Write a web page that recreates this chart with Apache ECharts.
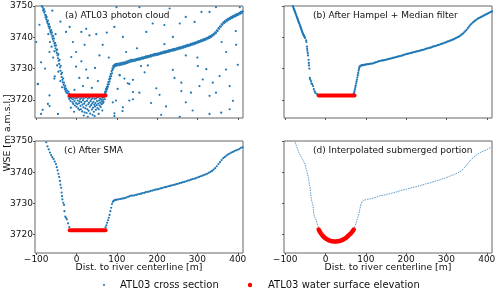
<!DOCTYPE html>
<html><head><meta charset="utf-8">
<script src="https://cdn.jsdelivr.net/npm/echarts@6/dist/echarts.min.js"></script>
<style>html,body{margin:0;padding:0;background:#fff}#c{width:500px;height:292px}</style>
</head><body><div id="c"></div>
<script>
// ---------- tick labels ----------
const X_TICKS = [-100, 0, 100, 200, 300, 400];
const Y_TICKS = [3720, 3730, 3740, 3750];
const WATER_LEVEL = 3721.4;
const WATER_EXTENT = [-17, 72];

// ---------- (a) ATL03 photon cloud ----------
const cloudLeftBankA = [[-86,3750.0],[-84,3749.5],[-83,3748.6],[-81,3749.0],[-80,3747.9],[-79,3748.3],[-78,3747.2],[-77,3746.4],[-76,3747.0],[-75,3745.8],[-74,3746.5],[-73,3745.1],[-72,3744.6],[-71,3745.3],[-70,3744.0],[-69,3743.4],[-68,3744.2],[-67,3742.8],[-66,3743.3],[-65,3742.0],[-64,3741.5],[-63,3742.3],[-62,3740.9],[-61,3741.6],[-60,3740.2],[-59,3739.5],[-58,3740.4],[-57,3738.8],[-56,3739.6],[-55,3738.0],[-54,3737.3],[-53,3738.2],[-52,3736.5],[-51,3737.4],[-50,3735.8],[-49,3735.0],[-48,3736.1],[-47,3734.2],[-46,3733.3],[-45,3734.6],[-44,3732.5],[-43,3731.5],[-42,3732.8],[-41,3730.4],[-40,3729.3],[-39,3730.9],[-38,3728.2],[-37,3727.3],[-36,3728.7],[-35,3726.4],[-34,3725.6],[-33,3726.9],[-32,3724.8],[-31,3725.5],[-30,3724.0],[-29,3723.4],[-28,3724.5],[-27,3722.8],[-26,3723.6],[-25,3722.3],[-24,3723.0],[-22,3722.1],[-20,3722.6],[-18,3721.9],[-62,3737.0],[-55,3735.5],[-48,3731.0],[-45,3729.0],[-40,3726.0],[-52,3741.0],[-66,3738.5],[-58,3733.5],[-36,3724.0],[-70,3741.0]];
const cloudUnderwaterA = [[-20,3721.0],[-18,3720.3],[-16,3720.8],[-15,3719.6],[-13,3720.5],[-12,3721.0],[-10,3719.2],[-9,3720.2],[-8,3718.7],[-7,3720.8],[-5,3719.6],[-4,3718.2],[-3,3720.4],[-1,3719.0],[0,3717.8],[1,3720.6],[2,3718.6],[3,3719.8],[4,3717.3],[5,3720.9],[6,3718.9],[7,3716.8],[8,3719.5],[9,3720.3],[10,3718.1],[11,3717.0],[12,3719.3],[13,3720.7],[14,3716.3],[15,3718.5],[16,3719.9],[17,3717.6],[18,3720.5],[19,3718.8],[20,3716.0],[21,3719.4],[22,3717.3],[23,3720.8],[24,3718.2],[25,3715.8],[26,3719.7],[27,3717.0],[28,3720.4],[29,3718.6],[30,3716.5],[31,3719.1],[32,3720.7],[33,3717.8],[34,3715.6],[35,3719.6],[36,3718.3],[37,3720.2],[38,3716.9],[39,3718.9],[40,3720.6],[41,3717.5],[42,3719.4],[43,3716.2],[44,3718.5],[45,3720.3],[46,3717.9],[47,3719.0],[48,3716.8],[49,3720.5],[50,3718.3],[51,3719.6],[52,3717.4],[53,3720.9],[54,3718.8],[55,3717.0],[56,3719.8],[57,3718.2],[58,3720.4],[59,3719.1],[60,3717.7],[61,3720.1],[62,3718.6],[63,3719.5],[64,3720.7],[65,3718.9],[66,3720.0],[67,3719.3],[68,3720.8],[70,3720.2],[-6,3716.2],[18,3715.0],[45,3714.8],[28,3714.6],[55,3715.5],[-14,3717.5],[64,3716.6],[40,3715.2]];
const cloudRightBankA = [[70,3721.9],[71,3722.6],[72,3722.2],[73,3723.4],[74,3722.8],[75,3724.1],[76,3723.5],[77,3724.9],[78,3724.2],[79,3725.7],[80,3725.0],[81,3726.6],[82,3725.9],[83,3727.4],[84,3726.8],[85,3728.3],[86,3727.6],[87,3729.2],[88,3728.5],[89,3730.0],[90,3729.6],[91,3730.8],[92,3730.3],[94,3731.2],[95,3730.7],[97,3731.4],[98,3730.9],[100,3731.5],[102,3731.0],[104,3731.6],[106,3731.1],[108,3731.7],[110,3731.2],[112,3731.8],[114,3731.3],[116,3731.9],[118,3731.5],[120,3732.0],[122,3731.6],[124,3732.2],[126,3731.8],[128,3732.4],[130,3732.0],[132,3732.6],[134,3732.2],[136,3732.8],[138,3732.3],[140,3732.8],[142,3732.4],[144,3732.9],[146,3732.5],[148,3733.0],[150,3732.7],[152,3733.2],[154,3732.8],[156,3733.3],[158,3732.9],[160,3733.4],[162,3733.1],[164,3733.6],[166,3733.2],[168,3733.7],[170,3733.4],[172,3733.9],[174,3733.5],[176,3734.0],[178,3733.6],[180,3734.1],[182,3733.8],[184,3734.3],[186,3733.9],[188,3734.4],[190,3734.1],[192,3734.6],[194,3734.2],[196,3734.7],[198,3734.3],[200,3734.8],[202,3734.4],[204,3734.9],[206,3734.6],[208,3735.1],[210,3734.7],[212,3735.2],[214,3734.9],[216,3735.4],[218,3735.0],[220,3735.5],[222,3735.1],[224,3735.6],[226,3735.3],[228,3735.8],[230,3735.4],[232,3735.9],[234,3735.6],[236,3736.1],[238,3735.7],[240,3736.2],[242,3735.8],[244,3736.3],[246,3736.0],[248,3736.5],[250,3736.1],[252,3736.6],[254,3736.3],[256,3736.8],[258,3736.4],[260,3736.9],[262,3736.6],[264,3737.1],[266,3736.7],[268,3737.2],[270,3736.9],[272,3737.4],[274,3737.1],[276,3737.6],[278,3737.2],[280,3737.7],[282,3737.4],[284,3737.9],[286,3737.6],[288,3738.1],[290,3737.7],[292,3738.2],[294,3737.9],[296,3738.4],[298,3738.1],[300,3738.6],[302,3738.3],[304,3738.8],[306,3738.5],[308,3739.0],[310,3738.7],[312,3739.2],[314,3738.9],[316,3739.4],[318,3739.1],[320,3739.6],[322,3739.3],[324,3739.8],[326,3739.6],[328,3740.1],[330,3739.8],[332,3740.4],[334,3740.1],[336,3740.7],[338,3740.5],[340,3741.1],[342,3740.9],[344,3741.6],[346,3741.4],[348,3742.2],[350,3742.0],[352,3742.9],[354,3742.7],[356,3743.5],[358,3743.4],[360,3744.2],[362,3744.0],[364,3744.8],[366,3744.5],[368,3745.2],[370,3744.9],[372,3745.6],[374,3745.3],[376,3745.9],[378,3745.6],[380,3746.2],[382,3745.9],[384,3746.5],[386,3746.2],[388,3746.8],[390,3746.5],[392,3747.0],[394,3746.7],[396,3747.3],[398,3747.0],[400,3747.5],[402,3747.2],[404,3747.8],[406,3747.5],[408,3748.1],[410,3747.8],[412,3748.3]];
const cloudNoiseA = [[-100,3738.5],[-88,3732],[-96,3725],[-67,3718],[-84,3716.8],[-55,3726.8],[-67,3735.3],[-26,3741.7],[-17,3743.3],[-9,3738.5],[12,3741.7],[24,3742.7],[32,3740.6],[49,3741],[20,3737.6],[-1,3735.3],[-13,3733.7],[-1,3730.6],[12,3732.3],[24,3729.7],[46,3730.2],[57,3734.2],[65,3737.6],[7,3727],[28,3727],[53,3726],[16,3724.4],[38,3723.8],[-5,3723.2],[99,3749.6],[94,3743.3],[115,3740.1],[123,3735.3],[107,3728],[127,3725.3],[140,3726.4],[102,3723.5],[90,3719.2],[94,3714.8],[114,3716.4],[140,3720.2],[156,3722.3],[169,3728.8],[160,3730.8],[177,3731.0],[156,3749.6],[189,3744.4],[173,3741.7],[218,3743.9],[231,3749.2],[198,3723.7],[206,3721.6],[185,3719],[222,3717.9],[239,3729.6],[243,3727],[260,3725.5],[260,3722.8],[256,3714.6],[271,3719.2],[288,3716.6],[284,3722.3],[305,3724.4],[313,3726.5],[301,3730.8],[322,3729.8],[338,3725.5],[346,3722.3],[359,3715.9],[330,3721.3],[380,3717],[388,3719.7],[380,3724.4],[396,3737.6],[400,3731.2],[256,3744.4],[271,3746.5],[293,3744.9],[310,3748.1],[330,3748.1],[346,3749.6],[371,3735.3],[405,3749.6],[271,3734.2],[239,3740.1],[218,3737.8],[371,3729.7],[355,3727.6],[107,3727.8],[119,3726.8],[131,3725.1],[140,3722.5],[98,3719.8],[115,3717.6],[131,3719.8],[94,3715.7],[-96,3725.1],[-67,3721.4],[-54,3727.5],[-71,3718.7],[-88,3715.5],[-46,3715.5],[-78,3730],[-92,3744],[-60,3748.5],[-40,3745],[210,3715.2],[330,3715.5],[300,3733.5],[395,3742],[360,3738.5],[150,3736.5],[75,3741.5],[80,3733.5]];

// ---------- (b) After Hampel + Median filter ----------
const filteredLeftB = [[-81,3750.0],[-80,3749.6],[-79,3749.2],[-78,3748.9],[-77,3748.6],[-76,3748.2],[-75,3747.9],[-74,3747.5],[-73,3747.2],[-72,3746.8],[-71,3746.5],[-70,3746.1],[-69,3745.8],[-68,3745.4],[-67,3745.0],[-66,3744.7],[-65,3744.4],[-64,3744.0],[-63,3743.6],[-62,3743.3],[-61,3742.9],[-60,3742.6],[-59,3742.2],[-58,3741.8],[-57,3741.5],[-56,3741.1],[-55,3740.9],[-54,3740.6],[-53,3740.4],[-52,3740.1],[-51,3739.8],[-48,3739.0],[-47.5,3738.5],[-46,3737.0],[-45.5,3736.3],[-45,3735.7],[-44,3735.0],[-43.5,3734.2],[-42,3732.8],[-41.5,3731.8],[-41,3731.0],[-40,3730.0],[-39,3727.0],[-38,3726.5],[-36,3726.0],[-35,3725.3],[-33,3725.0],[-31,3724.4],[-29,3723.4],[-27,3722.7],[-25,3722.2],[-21,3721.8]];
const filteredRightB = [[70,3721.9],[71,3722.3],[72,3722.8],[73,3723.4],[74,3724.1],[75,3724.6],[76,3725.3],[77,3725.9],[78,3726.5],[79,3727.2],[80,3727.9],[81,3728.6],[82,3729.3],[83,3729.9],[84,3730.4],[85,3730.7],[87,3730.9],[89,3731.0],[91,3731.1],[93,3731.1],[95,3731.2],[97,3731.2],[99,3731.3],[101,3731.3],[104,3731.4],[107,3731.4],[110,3731.5],[113,3731.6],[116,3731.6],[119,3731.7],[122,3731.9],[125,3732.0],[128,3732.1],[131,3732.3],[134,3732.4],[137,3732.5],[140,3732.6],[143,3732.6],[146,3732.7],[149,3732.8],[152,3732.9],[155,3733.0],[158,3733.1],[161,3733.2],[164,3733.3],[167,3733.4],[170,3733.5],[173,3733.6],[176,3733.7],[179,3733.8],[182,3733.9],[185,3734.0],[188,3734.1],[191,3734.2],[194,3734.4],[197,3734.5],[200,3734.6],[203,3734.7],[206,3734.8],[209,3734.9],[212,3735.0],[215,3735.1],[218,3735.2],[221,3735.3],[224,3735.4],[227,3735.5],[230,3735.6],[233,3735.7],[236,3735.8],[239,3735.9],[242,3736.0],[245,3736.1],[248,3736.3],[251,3736.4],[254,3736.5],[257,3736.6],[260,3736.7],[263,3736.8],[266,3737.0],[269,3737.1],[272,3737.2],[275,3737.3],[278,3737.5],[281,3737.6],[284,3737.7],[287,3737.9],[290,3738.0],[293,3738.1],[296,3738.3],[299,3738.4],[302,3738.6],[305,3738.7],[308,3738.9],[311,3739.0],[314,3739.2],[317,3739.3],[320,3739.5],[323,3739.7],[326,3739.9],[329,3740.1],[332,3740.3],[335,3740.6],[338,3740.9],[341,3741.2],[344,3741.6],[347,3742.0],[350,3742.4],[353,3742.9],[356,3743.4],[359,3743.9],[362,3744.3],[365,3744.7],[368,3745.0],[371,3745.3],[374,3745.6],[377,3745.9],[380,3746.1],[383,3746.3],[386,3746.5],[389,3746.7],[392,3746.9],[395,3747.1],[398,3747.3],[401,3747.5],[404,3747.7],[407,3747.9],[410,3748.1],[413,3748.3]];

// ---------- (c) After SMA ----------
const smaLeftC = [[-75,3749.6],[-72,3748.3],[-69,3747.3],[-66,3746.3],[-63,3745.5],[-60,3744.8],[-57,3744.2],[-54,3743.4],[-51,3742.6],[-49,3741.6],[-47,3740.6],[-45,3739.5],[-43,3738.5],[-41,3737.2],[-40,3736.0],[-38,3735.0],[-37,3733.5],[-36,3732.3],[-35,3731.3],[-33,3730.2],[-31,3729.5],[-30,3727.5],[-28,3725.8],[-26,3725.4],[-24,3724.9],[-21,3723.6],[-18,3722.4]];
const smaRightC = [[72,3722.3],[74,3723.0],[76,3723.8],[78,3724.6],[80,3725.4],[82,3726.3],[84,3727.5],[86,3728.6],[88,3729.8],[90,3730.5],[92,3730.8],[94,3731.0],[97,3731.1],[100,3731.2],[104,3731.3],[108,3731.4],[112,3731.5],[116,3731.6],[120,3731.7],[124,3731.9],[128,3732.1],[132,3732.3],[136,3732.5],[140,3732.5],[144,3732.6],[148,3732.7],[152,3732.9],[156,3733.0],[160,3733.1],[164,3733.3],[168,3733.4],[172,3733.6],[176,3733.7],[180,3733.8],[184,3734.0],[188,3734.1],[192,3734.3],[196,3734.4],[200,3734.5],[204,3734.6],[208,3734.8],[212,3734.9],[216,3735.1],[220,3735.2],[224,3735.3],[228,3735.5],[232,3735.6],[236,3735.8],[240,3735.9],[244,3736.0],[248,3736.2],[252,3736.3],[256,3736.5],[260,3736.6],[264,3736.8],[268,3736.9],[272,3737.1],[276,3737.3],[280,3737.4],[284,3737.6],[288,3737.8],[292,3737.9],[296,3738.1],[300,3738.3],[304,3738.5],[308,3738.7],[312,3738.9],[316,3739.1],[320,3739.3],[324,3739.5],[328,3739.8],[332,3740.1],[336,3740.4],[340,3740.8],[344,3741.3],[348,3741.9],[352,3742.6],[356,3743.2],[360,3743.9],[364,3744.5],[368,3744.9],[372,3745.3],[376,3745.7],[380,3746.0],[384,3746.3],[388,3746.5],[392,3746.8],[396,3747.0],[400,3747.2],[404,3747.5],[408,3747.8],[412,3748.0]];

// ---------- (d) Interpolated submerged portion ----------
const bedProfileD = [[-17,3721.6],[-14,3720.9],[-10,3720.1],[-6,3719.5],[-2,3719.0],[2,3718.6],[6,3718.3],[10,3718.1],[14,3717.95],[18,3717.85],[22,3717.8],[26,3717.8],[30,3717.85],[34,3717.95],[38,3718.1],[42,3718.3],[46,3718.6],[50,3718.9],[54,3719.3],[58,3719.8],[62,3720.3],[66,3720.9],[70,3721.6]];

const BLUE = '#1f77b4', RED = '#ff0000';
const FONT = '"DejaVu Sans", sans-serif';
const fmtX = v => (v < 0 ? '\u2212' + (-v) : String(v));
const fmtY = v => String(v);

const grids = [
  {left: 35, top: 6, width: 208, height: 112},
  {left: 284, top: 6, width: 208, height: 112},
  {left: 35, top: 141, width: 208, height: 112},
  {left: 284, top: 141, width: 208, height: 112}
].map(g => Object.assign(g, {show: true, borderColor: '#666', borderWidth: 1, backgroundColor: 'transparent'}));

const yMin = [3714.2, 3714.2, 3714.1, 3714.1];
const xAxes = grids.map((g, i) => ({
  type: 'value', gridIndex: i, min: -103, max: 413, position: 'bottom',
  axisLine: {show: false, onZero: false}, splitLine: {show: false},
  axisTick: {show: true, length: 2, customValues: X_TICKS, lineStyle: {color: '#555', width: 1}},
  axisLabel: {show: i >= 2, customValues: X_TICKS, formatter: fmtX, margin: 2, fontSize: 9, fontFamily: FONT, color: '#111'}
}));
const yAxes = grids.map((g, i) => ({
  type: 'value', gridIndex: i, min: yMin[i], max: 3750, position: 'left',
  axisLine: {show: false, onZero: false}, splitLine: {show: false},
  axisTick: {show: true, length: 2, customValues: Y_TICKS, lineStyle: {color: '#555', width: 1}},
  axisLabel: {show: i % 2 === 0, customValues: Y_TICKS, formatter: fmtY, margin: 2, fontSize: 9, fontFamily: FONT, color: '#111'}
}));

function dots(data, i, size) {
  return {type: 'scatter', xAxisIndex: i, yAxisIndex: i, data: data, symbol: 'circle', symbolSize: size || 2.2,
    itemStyle: {color: BLUE, opacity: 1}, silent: true, clip: true, z: 2};
}
function water(i) {
  return {type: 'line', xAxisIndex: i, yAxisIndex: i, showSymbol: false, symbol: 'none', silent: true, z: 3,
    data: [[WATER_EXTENT[0], WATER_LEVEL], [WATER_EXTENT[1], WATER_LEVEL]],
    lineStyle: {color: RED, width: 4, cap: 'round'}};
}
function thinLine(data) {
  return {type: 'line', xAxisIndex: 3, yAxisIndex: 3, showSymbol: false, symbol: 'none', silent: true, z: 2,
    data: data, lineStyle: {color: BLUE, width: 1, opacity: 0.75, type: [1.5, 1]}};
}

const series = [
  dots(cloudNoiseA, 0), dots(cloudUnderwaterA, 0), dots(cloudLeftBankA, 0), dots(cloudRightBankA, 0), water(0),
  dots(filteredLeftB, 1), dots(filteredRightB, 1), water(1),
  dots(smaLeftC, 2), dots(smaRightC, 2), water(2),
  thinLine(smaLeftC), thinLine(smaRightC),
  {type: 'line', xAxisIndex: 3, yAxisIndex: 3, showSymbol: false, symbol: 'none', silent: true, z: 3, smooth: 0.3,
    data: bedProfileD, lineStyle: {color: RED, width: 4.5, cap: 'round'}}
];

const txt = (x, y, text, align, size, extra) => Object.assign({type: 'text', x: x, y: y, silent: true,
  style: {text: text, fill: '#111', font: (size || 9) + 'px ' + FONT, align: align || 'left', verticalAlign: 'middle'}}, extra || {});

const graphic = [
  txt(65, 15.7, '(a) ATL03 photon cloud'),
  txt(313, 15.7, '(b) After Hampel + Median filter'),
  txt(64, 150.7, '(c) After SMA'),
  txt(313, 150.7, '(d) Interpolated submerged portion'),
  txt(139, 268, 'Dist. to river centerline [m]', 'center', 9.3),
  txt(388, 268, 'Dist. to river centerline [m]', 'center', 9.3),
  txt(8, 133, 'WSE [m a.m.s.l.]', 'center', 9.3, {rotation: Math.PI / 2}),
  {type: 'circle', shape: {cx: 104, cy: 285, r: 1.1}, style: {fill: BLUE}, silent: true},
  txt(120, 285, 'ATL03 cross section', 'left', 10),
  {type: 'circle', shape: {cx: 250, cy: 285, r: 2.2}, style: {fill: RED}, silent: true},
  txt(268, 285, 'ATL03 water surface elevation', 'left', 10)
];

const chart = echarts.init(document.getElementById('c'), null, {renderer: 'canvas'});
chart.setOption({animation: false, grid: grids, xAxis: xAxes, yAxis: yAxes, series: series, graphic: graphic});
</script></body></html>
